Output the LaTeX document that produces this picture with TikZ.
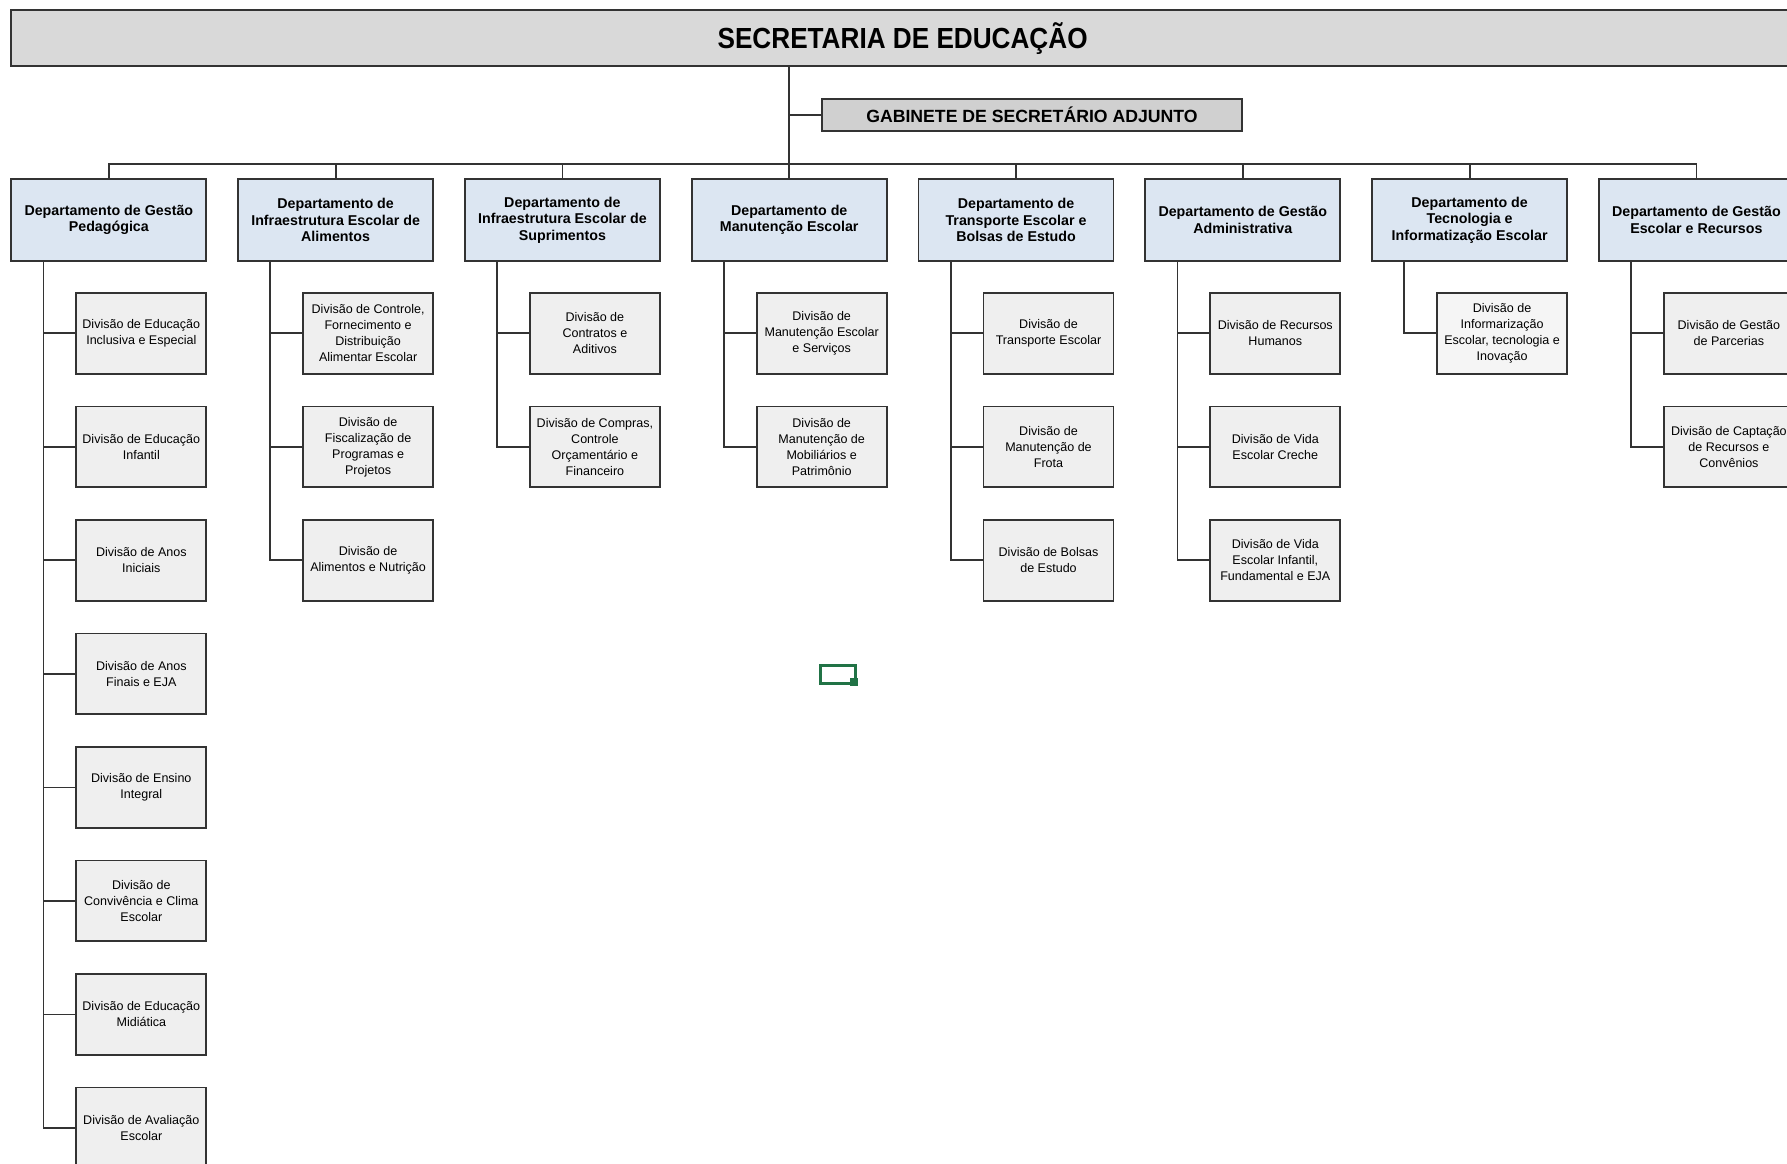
\documentclass[tikz,border=0pt]{standalone}
\usepackage{fontspec}
\setmainfont{Liberation Sans}
\newfontfamily\narrowfont{Liberation Sans}[FakeStretch=0.9]
\definecolor{linegray}{HTML}{333333}
\definecolor{titlegray}{HTML}{D9D9D9}
\definecolor{gabgray}{HTML}{D0D0D0}
\definecolor{deptblue}{HTML}{DCE6F2}
\definecolor{divgray}{HTML}{EFEFEF}
\definecolor{excelgreen}{HTML}{217346}
\tikzset{
  liga/.style={draw=linegray, line width=1.6pt},
  topo/.style={draw=linegray, line width=1.6pt, inner sep=0pt, align=center},
  dept/.style={draw=linegray, line width=1.6pt, fill=deptblue, minimum width=171pt, minimum height=72pt, inner sep=1pt, align=center, font=\fontsize{12.5}{14.5}\selectfont\bfseries},
  divisao/.style={draw=linegray, line width=1.6pt, fill=divgray, minimum width=114pt, minimum height=71pt, inner sep=1pt, align=center, font=\fontsize{11}{14}\selectfont}
}
\begin{document}
\begin{tikzpicture}[x=1pt, y=-1pt]
  \useasboundingbox (0,0) rectangle (1568,1021);
  \clip (0,0) rectangle (1568,1021);
  % topo
  \node[topo, fill=titlegray, minimum width=1564pt, minimum height=49pt, font=\narrowfont\fontsize{25.5}{28}\selectfont\bfseries] (sec) at (792,33.5) {SECRETARIA DE EDUCAÇÃO};
  \node[topo, fill=gabgray, minimum width=369pt, minimum height=28pt, font=\fontsize{15.5}{18}\selectfont\bfseries] (gab) at (905.5,101) {GABINETE DE SECRETÁRIO ADJUNTO};
  % departamentos
  \node[dept] (pedag) at (95.5,193) {Departamento de Gestão\\Pedagógica};
  \node[dept] (alim) at (294.5,193) {Departamento de\\Infraestrutura Escolar de\\Alimentos};
  \node[dept] (supr) at (493.5,193) {Departamento de\\Infraestrutura Escolar de\\Suprimentos};
  \node[dept] (manut) at (692.5,193) {Departamento de\\Manutenção Escolar};
  \node[dept] (transp) at (891.5,193) {Departamento de\\Transporte Escolar e\\Bolsas de Estudo};
  \node[dept] (adm) at (1090.5,193) {Departamento de Gestão\\Administrativa};
  \node[dept] (tec) at (1289.5,193) {Departamento de\\Tecnologia e\\Informatização Escolar};
  \node[dept] (rec) at (1488.5,193) {Departamento de Gestão\\Escolar e Recursos};
  \coordinate (bus) at (0,144);
  \draw[liga] (sec.south -| manut.north) -- (manut.north);
  \draw[liga] (gab.west) -- (gab.west -| manut.north);
  \draw[liga] (pedag.north) -- (pedag.north |- bus) -- (rec.north |- bus) -- (rec.north);
  \draw[liga] (alim.north) -- (alim.north |- bus);
  \draw[liga] (supr.north) -- (supr.north |- bus);
  \draw[liga] (transp.north) -- (transp.north |- bus);
  \draw[liga] (adm.north) -- (adm.north |- bus);
  \draw[liga] (tec.north) -- (tec.north |- bus);
  % divisoes - gestao pedagogica
  \node[divisao] (pedag1) at (124,292.5) {Divisão de Educação\\Inclusiva e Especial};
  \node[divisao] (pedag2) at (124,392.1) {Divisão de Educação\\Infantil};
  \node[divisao] (pedag3) at (124,491.7) {Divisão de Anos\\Iniciais};
  \node[divisao] (pedag4) at (124,591.3) {Divisão de Anos\\Finais e EJA};
  \node[divisao] (pedag5) at (124,690.9) {Divisão de Ensino\\Integral};
  \node[divisao] (pedag6) at (124,790.5) {Divisão de\\Convivência e Clima\\Escolar};
  \node[divisao] (pedag7) at (124,890.1) {Divisão de Educação\\Midiática};
  \node[divisao] (pedag8) at (124,989.7) {Divisão de Avaliação\\Escolar};
  % alimentos
  \node[divisao] (alim1) at (323,292.5) {Divisão de Controle,\\Fornecimento e\\Distribuição\\Alimentar Escolar};
  \node[divisao] (alim2) at (323,392.1) {Divisão de\\Fiscalização de\\Programas e\\Projetos};
  \node[divisao] (alim3) at (323,491.7) {Divisão de\\Alimentos e Nutrição};
  % suprimentos
  \node[divisao] (supr1) at (522,292.5) {Divisão de\\Contratos e\\Aditivos};
  \node[divisao] (supr2) at (522,392.1) {Divisão de Compras,\\Controle\\Orçamentário e\\Financeiro};
  % manutencao
  \node[divisao] (manut1) at (721,292.5) {Divisão de\\Manutenção Escolar\\e Serviços};
  \node[divisao] (manut2) at (721,392.1) {Divisão de\\Manutenção de\\Mobiliários e\\Patrimônio};
  % transporte
  \node[divisao] (transp1) at (920,292.5) {Divisão de\\Transporte Escolar};
  \node[divisao] (transp2) at (920,392.1) {Divisão de\\Manutenção de\\Frota};
  \node[divisao] (transp3) at (920,491.7) {Divisão de Bolsas\\de Estudo};
  % administrativa
  \node[divisao] (adm1) at (1119,292.5) {Divisão de Recursos\\Humanos};
  \node[divisao] (adm2) at (1119,392.1) {Divisão de Vida\\Escolar Creche};
  \node[divisao] (adm3) at (1119,491.7) {Divisão de Vida\\Escolar Infantil,\\Fundamental e EJA};
  % tecnologia
  \node[divisao, fill=divgray!60!white] (tec1) at (1318,292.5) {Divisão de\\Informarização\\Escolar, tecnologia e\\Inovação};
  % recursos
  \node[divisao] (rec1) at (1517,292.5) {Divisão de Gestão\\de Parcerias};
  \node[divisao] (rec2) at (1517,392.1) {Divisão de Captação\\de Recursos e\\Convênios};
  % ligacoes
  \draw[liga] ([xshift=29pt]pedag.south west) |- (pedag1.west);
  \draw[liga] ([xshift=29pt]pedag.south west) |- (pedag2.west);
  \draw[liga] ([xshift=29pt]pedag.south west) |- (pedag3.west);
  \draw[liga] ([xshift=29pt]pedag.south west) |- (pedag4.west);
  \draw[liga] ([xshift=29pt]pedag.south west) |- (pedag5.west);
  \draw[liga] ([xshift=29pt]pedag.south west) |- (pedag6.west);
  \draw[liga] ([xshift=29pt]pedag.south west) |- (pedag7.west);
  \draw[liga] ([xshift=29pt]pedag.south west) |- (pedag8.west);
  \draw[liga] ([xshift=29pt]alim.south west) |- (alim1.west);
  \draw[liga] ([xshift=29pt]alim.south west) |- (alim2.west);
  \draw[liga] ([xshift=29pt]alim.south west) |- (alim3.west);
  \draw[liga] ([xshift=29pt]supr.south west) |- (supr1.west);
  \draw[liga] ([xshift=29pt]supr.south west) |- (supr2.west);
  \draw[liga] ([xshift=29pt]manut.south west) |- (manut1.west);
  \draw[liga] ([xshift=29pt]manut.south west) |- (manut2.west);
  \draw[liga] ([xshift=29pt]transp.south west) |- (transp1.west);
  \draw[liga] ([xshift=29pt]transp.south west) |- (transp2.west);
  \draw[liga] ([xshift=29pt]transp.south west) |- (transp3.west);
  \draw[liga] ([xshift=29pt]adm.south west) |- (adm1.west);
  \draw[liga] ([xshift=29pt]adm.south west) |- (adm2.west);
  \draw[liga] ([xshift=29pt]adm.south west) |- (adm3.west);
  \draw[liga] ([xshift=29pt]tec.south west) |- (tec1.west);
  \draw[liga] ([xshift=29pt]rec.south west) |- (rec1.west);
  \draw[liga] ([xshift=29pt]rec.south west) |- (rec2.west);
  % selecao de celula
  \draw[excelgreen, line width=2.5pt] (720,584) rectangle (751,600);
  \fill[excelgreen] (746,595) rectangle (753,602);
\end{tikzpicture}
\end{document}
